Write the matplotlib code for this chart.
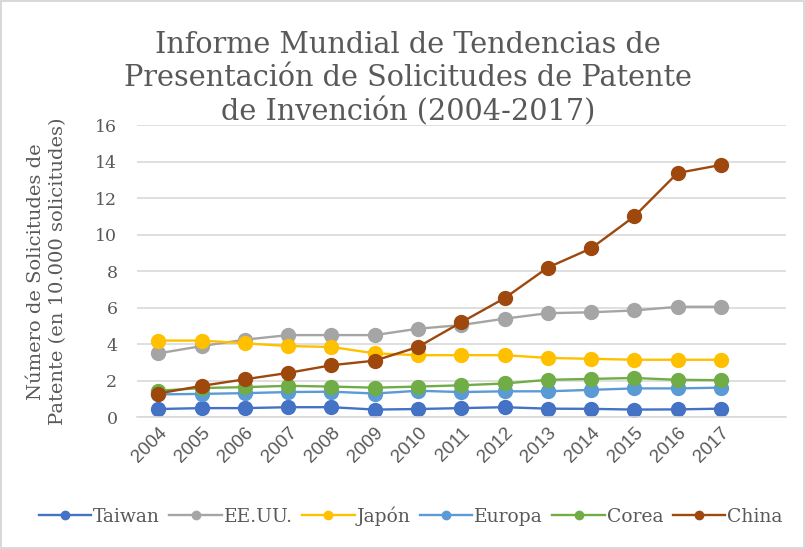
import matplotlib
matplotlib.use('Agg')
import matplotlib.pyplot as plt

anios = ['2004', '2005', '2006', '2007', '2008', '2009', '2010',
         '2011', '2012', '2013', '2014', '2015', '2016', '2017']

taiwan = [0.45, 0.5, 0.5, 0.55, 0.55, 0.42, 0.45, 0.5, 0.55, 0.47, 0.46, 0.42, 0.43, 0.47]
eeuu = [3.5, 3.9, 4.25, 4.5, 4.5, 4.5, 4.85, 5.05, 5.4, 5.7, 5.75, 5.85, 6.05, 6.05]
japon = [4.2, 4.2, 4.05, 3.9, 3.85, 3.5, 3.4, 3.4, 3.4, 3.25, 3.2, 3.15, 3.15, 3.15]
europa = [1.25, 1.28, 1.32, 1.38, 1.4, 1.3, 1.45, 1.38, 1.42, 1.42, 1.5, 1.58, 1.58, 1.62]
corea = [1.45, 1.6, 1.65, 1.72, 1.68, 1.62, 1.68, 1.75, 1.85, 2.05, 2.1, 2.15, 2.05, 2.03]
china = [1.3, 1.72, 2.08, 2.43, 2.85, 3.1, 3.85, 5.2, 6.52, 8.2, 9.25, 11.0, 13.38, 13.82]

series = [('Taiwan', taiwan, '#4472C4'),
          ('EE.UU.', eeuu, '#A5A5A5'),
          ('Japón', japon, '#FFC000'),
          ('Europa', europa, '#5B9BD5'),
          ('Corea', corea, '#70AD47'),
          ('China', china, '#9E480E')]

gris = '#595959'
serif = ['DejaVu Serif']

fig = plt.figure(figsize=(8.05, 5.49), dpi=100)
fig.patch.set_edgecolor('#D9D9D9')
fig.patch.set_linewidth(1.5)
ax = fig.add_axes([0.170, 0.240, 0.806, 0.532])

x = list(range(len(anios)))
for nombre, valores, color in series:
    ax.plot(x, valores, color=color, linewidth=1.7, marker='o', markersize=10,
            label=nombre)

ax.set_ylim(0, 16)
ax.set_yticks(range(0, 17, 2))
ax.set_xlim(-0.5, 14.5)
ax.set_xticks(x)
ax.set_xticklabels(anios, rotation=45, ha='right', rotation_mode='anchor',
                   fontsize=13.5, color=gris, family=['Liberation Sans', 'DejaVu Sans'])
for t in ax.get_yticklabels():
    t.set_family(serif)
    t.set_fontsize(12.5)
    t.set_color(gris)
ax.tick_params(axis='both', length=0)
ax.tick_params(axis='y', pad=14)
ax.tick_params(axis='x', pad=5)
ax.grid(axis='y', color='#D9D9D9', linewidth=1.2)
ax.set_axisbelow(True)
for s in ['top', 'right', 'left']:
    ax.spines[s].set_visible(False)
ax.spines['bottom'].set_color('#D9D9D9')
ax.spines['bottom'].set_linewidth(1.2)

ax.set_ylabel('Número de Solicitudes de\nPatente (en 10.000 solicitudes)',
              family=serif, fontsize=14, color=gris, linespacing=1.3)
ax.yaxis.set_label_coords(-0.108, 0.5)

fig.text(0.507, 0.944, 'Informe Mundial de Tendencias de\nPresentación de Solicitudes de Patente\nde Invención (2004-2017)',
         ha='center', va='top', family=serif, fontsize=20.7, color=gris, linespacing=1.22)

fig.legend(loc='center', bbox_to_anchor=(0.51, 0.06), ncol=6, frameon=False,
           prop={'family': serif, 'size': 13.5}, labelcolor=gris,
           handlelength=2.8, handletextpad=0.1, columnspacing=0.5, markerscale=0.6)

fig.savefig('out.png', dpi=100)
